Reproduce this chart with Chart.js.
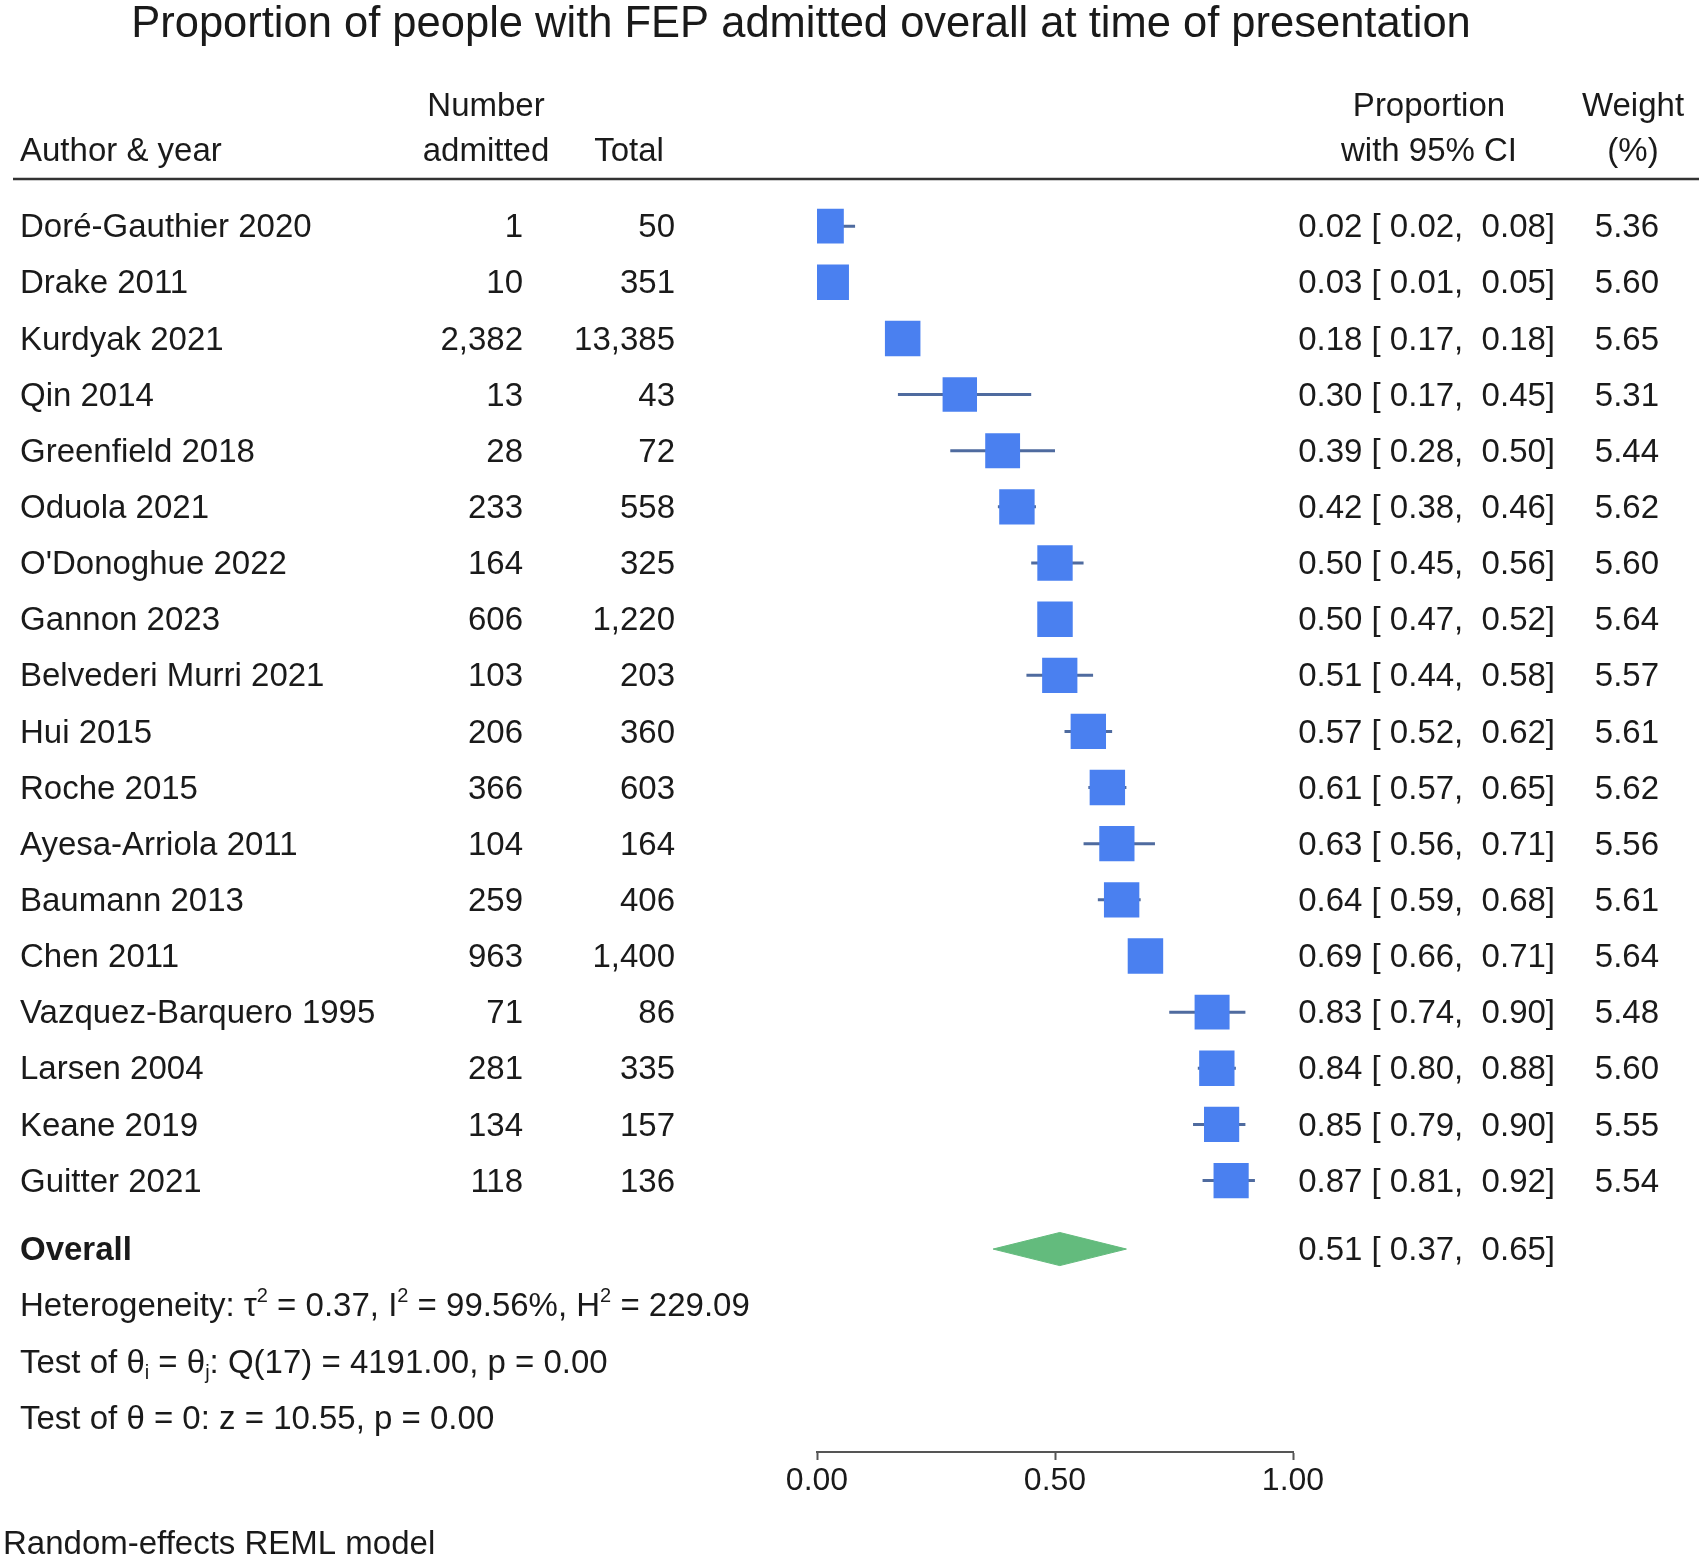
<!DOCTYPE html>
<html>
<head>
<meta charset="utf-8">
<title>Proportion of people with FEP admitted overall at time of presentation</title>
<script src="https://cdn.jsdelivr.net/npm/chart.js@4.4.1/dist/chart.umd.min.js"></script>
<style>
  html, body { margin: 0; padding: 0; background: #fff; }
  #wrap { position: relative; width: 1703px; height: 1561px; }
</style>
</head>
<body>
<div id="wrap"><canvas id="forest"></canvas></div>
<script>
var authors = ['Doré-Gauthier 2020', 'Drake 2011', 'Kurdyak 2021', 'Qin 2014', 'Greenfield 2018',
    'Oduola 2021', "O'Donoghue 2022", 'Gannon 2023', 'Belvederi Murri 2021', 'Hui 2015',
    'Roche 2015', 'Ayesa-Arriola 2011', 'Baumann 2013', 'Chen 2011', 'Vazquez-Barquero 1995',
    'Larsen 2004', 'Keane 2019', 'Guitter 2021'];
var admitted = [1, 10, 2382, 13, 28, 233, 164, 606, 103, 206, 366, 104, 259, 963, 71, 281, 134, 118];
var totals = [50, 351, 13385, 43, 72, 558, 325, 1220, 203, 360, 603, 164, 406, 1400, 86, 335, 157, 136];
var props = [0.02, 0.03, 0.18, 0.30, 0.39, 0.42, 0.50, 0.50, 0.51, 0.57, 0.61, 0.63, 0.64, 0.69, 0.83, 0.84, 0.85, 0.87];
var lower = [0.02, 0.01, 0.17, 0.17, 0.28, 0.38, 0.45, 0.47, 0.44, 0.52, 0.57, 0.56, 0.59, 0.66, 0.74, 0.80, 0.79, 0.81];
var upper = [0.08, 0.05, 0.18, 0.45, 0.50, 0.46, 0.56, 0.52, 0.58, 0.62, 0.65, 0.71, 0.68, 0.71, 0.90, 0.88, 0.90, 0.92];
var weights = [5.36, 5.60, 5.65, 5.31, 5.44, 5.62, 5.60, 5.64, 5.57, 5.61, 5.62, 5.56, 5.61, 5.64, 5.48, 5.60, 5.55, 5.54];
var overall = [0.51, 0.37, 0.65]; // estimate, lower, upper
var xTicks = [0, 0.5, 1];

var FONT = '"Liberation Sans", Arial, Helvetica, sans-serif';
var INK = '#1a1a1a';
var overallRow = 18.22;
var diamondHalf = 0.295;

function fmtInt(n) { return n.toLocaleString('en-US'); }
function ciText(p, lo, hi) { return p.toFixed(2) + ' [ ' + lo.toFixed(2) + ',  ' + hi.toFixed(2) + ']'; }
function boxRadius(c) { return 25 * Math.sqrt(weights[c.dataIndex] / 5.6); }

var squares = props.map(function (p, i) { return { x: p, y: i }; });

// one broken line: lower -> upper for each study, gap between
var ciPoints = [];
props.forEach(function (p, i) {
    ciPoints.push({ x: lower[i], y: i }, { x: upper[i], y: i }, { x: null, y: null });
});

var diamond = [
    { x: overall[1], y: overallRow },
    { x: overall[0], y: overallRow - diamondHalf },
    { x: overall[2], y: overallRow },
    { x: overall[0], y: overallRow + diamondHalf },
    { x: overall[1], y: overallRow }
];

// draws pieces of text, some raised or lowered (superscripts / subscripts)
function drawRich(ctx, parts, x, y) {
    parts.forEach(function (p) {
        var size = p.sup || p.sub ? 20 : 33;
        var dy = p.sup ? -11 : (p.sub ? 9 : 0);
        ctx.font = size + 'px ' + FONT;
        ctx.fillText(p.t, x, y + dy);
        x += ctx.measureText(p.t).width;
    });
}

var tablePlugin = {
    id: 'forestTable',
    beforeDraw: function (chart) {
        var ctx = chart.ctx;
        ctx.save();
        ctx.fillStyle = '#fff';
        ctx.fillRect(0, 0, chart.width, chart.height);
        ctx.restore();
    },
    afterDraw: function (chart) {
        var ctx = chart.ctx;
        var ys = chart.scales.y;
        ctx.save();
        ctx.fillStyle = INK;
        ctx.textBaseline = 'middle';

        // title
        ctx.font = '43.5px ' + FONT;
        ctx.textAlign = 'center';
        ctx.fillText('Proportion of people with FEP admitted overall at time of presentation', 801, 25);

        // header
        ctx.font = '33px ' + FONT;
        ctx.fillText('Number', 486, 107);
        ctx.fillText('admitted', 486, 152);
        ctx.fillText('Total', 629, 152);
        ctx.fillText('Proportion', 1429, 107);
        ctx.fillText('with 95% CI', 1429, 152);
        ctx.fillText('Weight', 1633, 107);
        ctx.fillText('(%)', 1633, 152);
        ctx.textAlign = 'left';
        ctx.fillText('Author & year', 20, 152);

        ctx.strokeStyle = '#333';
        ctx.lineWidth = 2.5;
        ctx.beginPath();
        ctx.moveTo(13, 179);
        ctx.lineTo(1699, 179);
        ctx.stroke();

        // study rows
        authors.forEach(function (a, i) {
            var py = ys.getPixelForValue(i) + 2;
            ctx.textAlign = 'left';
            ctx.fillText(a, 20, py);
            ctx.textAlign = 'right';
            ctx.fillText(fmtInt(admitted[i]), 523, py);
            ctx.fillText(fmtInt(totals[i]), 675, py);
            ctx.fillText(ciText(props[i], lower[i], upper[i]), 1555, py);
            ctx.fillText(weights[i].toFixed(2), 1659, py);
        });

        // overall row
        var oy = ys.getPixelForValue(overallRow) + 2;
        ctx.textAlign = 'left';
        ctx.font = 'bold 33px ' + FONT;
        ctx.fillText('Overall', 20, oy);
        ctx.font = '33px ' + FONT;
        ctx.textAlign = 'right';
        ctx.fillText(ciText(overall[0], overall[1], overall[2]), 1555, oy);

        // heterogeneity statistics
        ctx.textAlign = 'left';
        drawRich(ctx, [
            { t: 'Heterogeneity: τ' }, { t: '2', sup: true }, { t: ' = 0.37, I' }, { t: '2', sup: true },
            { t: ' = 99.56%, H' }, { t: '2', sup: true }, { t: ' = 229.09' }
        ], 20, 1307);
        drawRich(ctx, [
            { t: 'Test of θ' }, { t: 'i', sub: true }, { t: ' = θ' }, { t: 'j', sub: true },
            { t: ': Q(17) = 4191.00, p = 0.00' }
        ], 20, 1364);
        drawRich(ctx, [{ t: 'Test of θ = 0: z = 10.55, p = 0.00' }], 20, 1420);

        ctx.font = '33px ' + FONT;
        ctx.fillText('Random-effects REML model', 3, 1545);
        ctx.restore();
    }
};

var ctx = document.getElementById('forest').getContext('2d');
new Chart(ctx, {
    type: 'scatter',
    data: {
        datasets: [{
            label: 'Study',
            data: squares,
            pointStyle: 'rect',
            pointRadius: boxRadius,
            pointHoverRadius: boxRadius,
            backgroundColor: '#4a80f0',
            borderColor: '#4a80f0',
            borderWidth: 0,
            order: 1
        }, {
            label: '95% CI',
            data: ciPoints,
            showLine: true,
            spanGaps: false,
            pointRadius: 0,
            borderColor: '#4f6b9f',
            borderWidth: 3,
            order: 2
        }, {
            label: 'Overall',
            data: diamond,
            showLine: true,
            fill: 'shape',
            pointRadius: 0,
            borderColor: '#63bb7d',
            backgroundColor: '#63bb7d',
            borderWidth: 1,
            tension: 0,
            order: 0
        }]
    },
    options: {
        responsive: true,
        maintainAspectRatio: false,
        devicePixelRatio: 1,
        animation: false,
        events: [],
        layout: { padding: { top: 170, left: 817, right: 410, bottom: 0 } },
        plugins: {
            legend: { display: false },
            tooltip: { enabled: false },
            title: { display: false }
        },
        scales: {
            x: {
                type: 'linear',
                min: 0,
                max: 1,
                afterFit: function (scale) { scale.height = 109; },
                afterBuildTicks: function (scale) {
                    scale.ticks = xTicks.map(function (v) { return { value: v }; });
                },
                ticks: {
                    autoSkip: false,
                    maxRotation: 0,
                    padding: 2,
                    color: INK,
                    font: { family: FONT, size: 32 },
                    callback: function (v) { return Number(v).toFixed(2); }
                },
                grid: { drawOnChartArea: false, drawTicks: true, tickLength: 8, tickWidth: 2, color: '#555' },
                border: { display: true, color: '#555', width: 2 }
            },
            y: {
                type: 'linear',
                display: false,
                reverse: true,
                min: -1,
                max: 21.835
            }
        }
    },
    plugins: [tablePlugin]
});
</script>
</body>
</html>
